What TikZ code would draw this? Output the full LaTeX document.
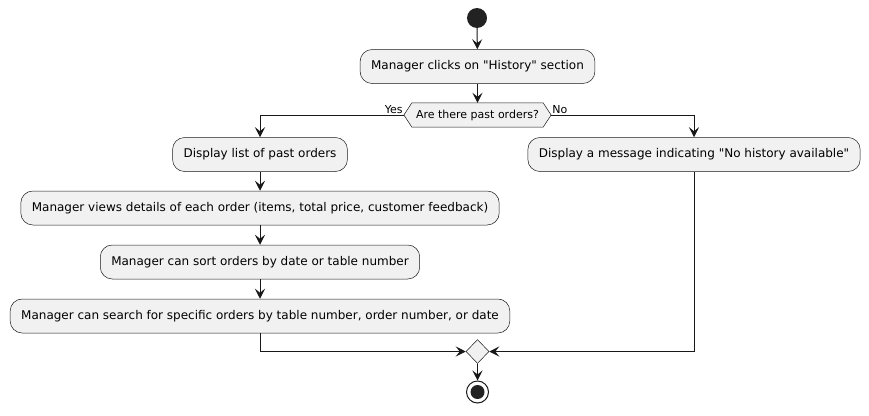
\documentclass[tikz,border=0pt]{standalone}
\usepackage{fontspec}
\setmainfont{DejaVu Sans}
\usepackage{tikz}
\usetikzlibrary{positioning,arrows.meta,calc,shapes.geometric,backgrounds}
\usepackage{xcolor}
\definecolor{actfill}{HTML}{F1F1F1}
\definecolor{actline}{HTML}{181818}
\definecolor{dotfill}{HTML}{222222}

\begin{document}
\begin{tikzpicture}[x=1pt,y=-1pt,every node/.style={font=\fontsize{12}{14}\selectfont},
  act/.style={draw=actline,fill=actfill,line width=0.5pt,rounded corners=12pt,minimum height=34pt,inner xsep=11pt},
  flow/.style={draw=actline,line width=1pt,-{Stealth[length=10pt,width=10pt,inset=4pt]}},
  lbl/.style={font=\fontsize{11}{13}\selectfont,inner sep=1pt}]
\useasboundingbox (0,0) rectangle (869,415);
\node[circle,fill=dotfill,minimum size=20pt,inner sep=0pt] (start) at (477,18) {};
\node[act] (clicks) at (477.5,66.5) {Manager clicks on \textquotedbl History\textquotedbl{} section};
\node[font=\fontsize{11}{13}\selectfont,inner xsep=12pt,minimum height=24pt] (ask) at (477.5,115) {Are there past orders?};
\begin{scope}[on background layer]
\filldraw[fill=actfill,draw=actline,line width=0.5pt] (ask.west) -- ([xshift=8pt]ask.north west) -- ([xshift=-8pt]ask.north east)
  -- (ask.east) -- ([xshift=-8pt]ask.south east) -- ([xshift=8pt]ask.south west) -- cycle;
\end{scope}
\node[lbl,anchor=south east] (yes) at (ask.west) {Yes};
\node[lbl,anchor=south west] (no) at (ask.east) {No};
\node[act] (list) at (260,154.5) {Display list of past orders};
\node[act] (details) at (260,208) {Manager views details of each order (items, total price, customer feedback)};
\node[act] (sort) at (260,262) {Manager can sort orders by date or table number};
\node[act] (search) at (260,316) {Manager can search for specific orders by table number, order number, or date};
\node[act] (nohist) at (694,154.5) {Display a message indicating \textquotedbl No history available\textquotedbl};
\node[diamond,draw=actline,fill=actfill,line width=0.5pt,minimum width=23pt,minimum height=24pt,inner sep=0pt] (merge) at (477.5,351.5) {};
\node[circle,draw=actline,fill=white,line width=1pt,minimum size=22pt,inner sep=0pt,
  path picture={\fill[dotfill] (path picture bounding box.center) circle (7pt);}] (stop) at (477.5,392) {};
\draw[flow] (start) -- (clicks);
\draw[flow] (clicks) -- (ask);
\draw[flow] (ask.west) -| (list);
\draw[flow] (ask.east) -| (nohist);
\draw[flow] (list) -- (details);
\draw[flow] (details) -- (sort);
\draw[flow] (sort) -- (search);
\draw[flow] (search) |- (merge);
\draw[flow] (nohist) |- (merge);
\draw[flow] (merge) -- (stop);
\end{tikzpicture}
\end{document}
